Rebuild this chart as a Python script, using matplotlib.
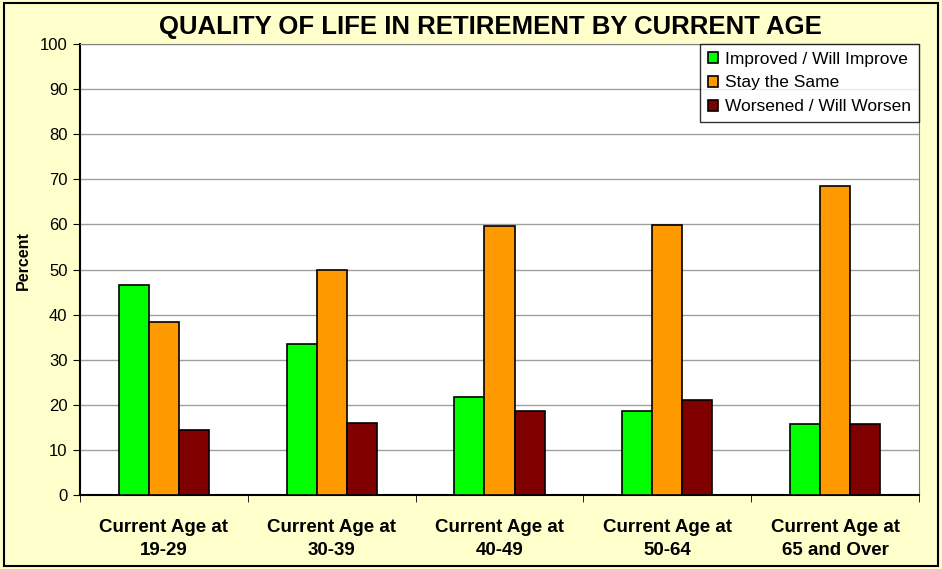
import matplotlib.pyplot as plt
import numpy as np
from matplotlib.patches import Rectangle

plt.rcParams['font.family'] = ['Liberation Sans', 'DejaVu Sans']

categories = ['Current Age at\n19-29', 'Current Age at\n30-39', 'Current Age at\n40-49',
              'Current Age at\n50-64', 'Current Age at\n65 and Over']
improved = [46.6, 33.5, 21.7, 18.6, 15.7]
same = [38.4, 49.9, 59.6, 59.9, 68.5]
worsened = [14.4, 16.0, 18.6, 21.1, 15.7]
series_names = ['Improved / Will Improve', 'Stay the Same', 'Worsened / Will Worsen']
colors = ['#00FF00', '#FF9900', '#800000']

fig = plt.figure(figsize=(9.42, 5.69), dpi=100, facecolor='#FFFFCC')
ax = fig.add_axes([80 / 942, 1 - 495 / 569, (919 - 80) / 942, (495 - 44) / 569])
ax.set_facecolor('white')

x = np.arange(len(categories))
w = 0.179
for i, (vals, name, c) in enumerate(zip([improved, same, worsened], series_names, colors)):
    ax.bar(x + (i - 1) * w, vals, w, color=c, edgecolor='black', linewidth=1.2,
           label=name, zorder=3)

ax.set_xlim(-0.5, len(categories) - 0.5)
ax.set_ylim(0, 100)
ax.set_yticks(range(0, 101, 10))
ax.tick_params(axis='y', labelsize=12, length=5, direction='out', pad=4)
ax.set_xticks(x)
ax.set_xticklabels(categories, fontsize=13.5, fontweight='bold', linespacing=1.5)
ax.set_xticks(np.arange(-0.5, len(categories)), minor=True)
ax.tick_params(axis='x', which='major', length=0, pad=17)
ax.tick_params(axis='x', which='minor', length=5, direction='out')
ax.yaxis.grid(True, color='#A0A0A0', linewidth=1, zorder=0)
ax.set_axisbelow(True)
for s in ['top', 'right']:
    ax.spines[s].set_color('#808080')
for s in ['left', 'bottom']:
    ax.spines[s].set_linewidth(1.5)

ax.set_ylabel('Percent', fontsize=11.5, fontweight='bold')
ax.yaxis.set_label_coords(-0.058, 0.52)
fig.text(490 / 942, 1 - 27 / 569, 'QUALITY OF LIFE IN RETIREMENT BY CURRENT AGE',
         ha='center', va='center', fontsize=18.5, fontweight='bold')

leg = ax.legend(loc='upper right', bbox_to_anchor=(1.0, 1.0), fontsize=12.5,
                frameon=True, fancybox=False, borderaxespad=0, handlelength=0.6,
                handleheight=0.6, handletextpad=0.4, labelspacing=0.5,
                borderpad=0.45)
leg.get_frame().set_edgecolor('black')
leg.get_frame().set_linewidth(1)

fig.patches.append(Rectangle((0.004, 0.005), 0.992, 0.99, transform=fig.transFigure,
                             fill=False, edgecolor='black', linewidth=1.5))

fig.savefig('out.png', dpi=100, facecolor=fig.get_facecolor())
